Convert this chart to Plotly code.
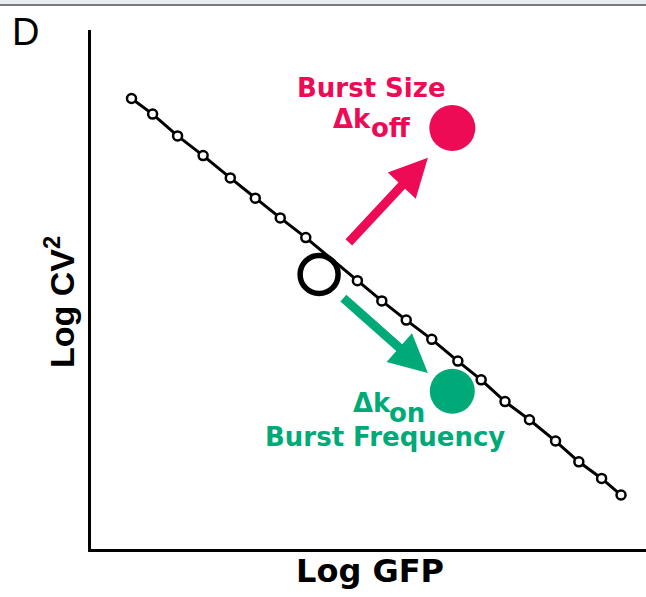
import plotly.graph_objects as go

# ---- data (arbitrary log units, axes have no ticks) ----
line_x = [0.73, 1.11, 1.56, 2.02, 2.51, 2.96, 3.41, 3.87, 4.80, 5.24, 5.68, 6.14,
          6.61, 7.03, 7.46, 7.90, 8.37, 8.79, 9.20, 9.55]
line_y = [8.68, 8.38, 7.96, 7.58, 7.15, 6.76, 6.38, 6.00, 5.17, 4.78, 4.41, 4.04,
          3.62, 3.26, 2.84, 2.49, 2.08, 1.68, 1.36, 1.04]

wt_x, wt_y = [4.11], [5.29]            # reference (open) state
size_x, size_y = [6.51], [8.11]        # burst size change (koff)
freq_x, freq_y = [6.51], [3.04]        # burst frequency change (kon)

# arrows: tail -> tip
red_arrow = dict(ax=4.62, ay=5.88, x=6.07, y=7.54)
green_arrow = dict(ax=4.52, ay=4.86, x=6.07, y=3.39)

RED = "#EE0B55"
GREEN = "#00AA78"
FONT = "DejaVu Sans, Verdana, sans-serif"
FONT_L = "Liberation Sans, Arial, Helvetica, sans-serif"

fig = go.Figure()

fig.add_trace(go.Scatter(
    x=line_x, y=line_y, mode="lines+markers",
    line=dict(color="black", width=3),
    marker=dict(symbol="circle", size=9, color="white",
                line=dict(color="black", width=2.5)),
    hoverinfo="skip", showlegend=False))

fig.add_trace(go.Scatter(
    x=wt_x, y=wt_y, mode="markers",
    marker=dict(symbol="circle", size=38, color="rgba(255,255,255,0)",
                line=dict(color="black", width=5.5)),
    showlegend=False))

fig.add_trace(go.Scatter(
    x=size_x, y=size_y, mode="markers",
    marker=dict(size=46, color=RED, line=dict(width=0)), showlegend=False))
fig.add_trace(go.Scatter(
    x=freq_x, y=freq_y, mode="markers",
    marker=dict(size=45, color=GREEN, line=dict(width=0)), showlegend=False))

# arrows
for arr, col in ((red_arrow, RED), (green_arrow, GREEN)):
    fig.add_annotation(**arr, xref="x", yref="y", axref="x", ayref="y",
                       text="", showarrow=True, arrowhead=2, arrowwidth=9,
                       arrowsize=0.85, arrowcolor=col)

# labels
fig.add_annotation(x=5.05, y=8.88, text="<b>Burst Size</b>", showarrow=False,
                   font=dict(family=FONT, size=26, color=RED))
fig.add_annotation(x=4.32, y=8.285, text="<b>Δk</b>", showarrow=False,
                   xanchor="left", font=dict(family=FONT, size=26, color=RED))
fig.add_annotation(x=5.01, y=8.11, text="<b>off</b>", showarrow=False,
                   xanchor="left", font=dict(family=FONT, size=26, color=RED))
fig.add_annotation(x=4.685, y=2.813, text="<b>Δk</b>", showarrow=False,
                   xanchor="left", font=dict(family=FONT, size=26, color=GREEN))
fig.add_annotation(x=5.34, y=2.63, text="<b>on</b>", showarrow=False,
                   xanchor="left", font=dict(family=FONT, size=26, color=GREEN))
fig.add_annotation(x=5.306, y=2.158, text="<b>Burst Frequency</b>", showarrow=False,
                   font=dict(family=FONT, size=26, color=GREEN))

# axis titles
fig.add_annotation(xref="paper", yref="paper", x=0.503, y=0, yshift=-22,
                   xanchor="center", yanchor="middle",
                   text="<b>Log GFP</b>", showarrow=False,
                   font=dict(family=FONT, size=32, color="black"))
fig.add_annotation(xref="paper", yref="paper", x=0, xshift=-31.5, y=0.475,
                   xanchor="center", yanchor="middle",
                   text="<b>Log CV<sup>2</sup></b>", showarrow=False, textangle=-90,
                   font=dict(family=FONT_L, size=34, color="black"))
# panel letter
fig.add_annotation(xref="paper", yref="paper", x=0, xshift=-65.5, y=1, yshift=-2,
                   xanchor="center", yanchor="middle",
                   text="D", showarrow=False,
                   font=dict(family=FONT_L, size=38, color="black"))

# top border strip
fig.add_shape(type="rect", xref="paper", yref="paper", x0=-0.2, x1=1.0,
              y0=1.048, y1=1.06, fillcolor="#e9edf2", line=dict(width=0), layer="below")
fig.add_shape(type="line", xref="paper", yref="paper", x0=-0.2, x1=1.0,
              y0=1.048, y1=1.048, line=dict(color="#7a7a7a", width=2))

fig.update_xaxes(range=[0, 10], showline=True, linecolor="black", linewidth=3,
                 showgrid=False, zeroline=False, showticklabels=False, ticks="")
fig.update_yaxes(range=[0, 10], showline=True, linecolor="black", linewidth=3,
                 showgrid=False, zeroline=False, showticklabels=False, ticks="")

fig.update_layout(width=646, height=597,
                  margin=dict(l=91, r=0, t=30, b=48),
                  plot_bgcolor="white", paper_bgcolor="white",
                  showlegend=False)

fig.write_html("out.html")
